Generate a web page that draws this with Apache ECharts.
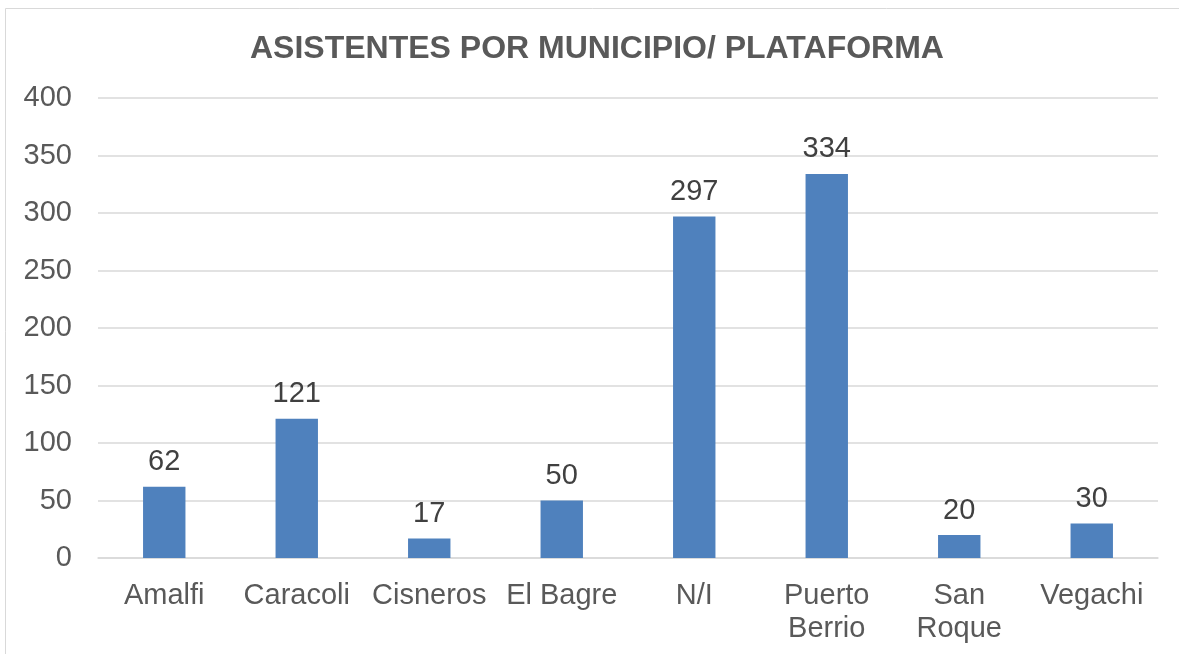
<!DOCTYPE html>
<html lang="es">
<head>
    <meta charset="UTF-8">
    <title>Asistentes por municipio</title>
    <script src="https://cdn.jsdelivr.net/npm/echarts@6/dist/echarts.min.js"></script>
    <style>
        html, body { margin: 0; padding: 0; background: #fff; }
        #main { width: 1179px; height: 654px; }
    </style>
</head>
<body>
<div id="main"></div>
<script type="text/javascript">
    const municipios = ['Amalfi', 'Caracoli', 'Cisneros', 'El Bagre', 'N/I', 'Puerto\nBerrio', 'San\nRoque', 'Vegachi']
    const asistentes = [62, 121, 17, 50, 297, 334, 20, 30]
    const yTicks = [0, 50, 100, 150, 200, 250, 300, 350, 400]

    let chart = echarts.init(document.getElementById('main'))
    chart.setOption({
        animation: false,
        textStyle: { fontFamily: 'Liberation Sans, Arial, sans-serif' },
        graphic: [{
            type: 'rect',
            shape: { x: 5.5, y: 8.5, width: 1300, height: 800 },
            style: { fill: 'none', stroke: '#d9d9d9', lineWidth: 1 },
            silent: true
        }],
        title: {
            text: 'ASISTENTES POR MUNICIPIO/ PLATAFORMA',
            left: 245,
            top: 28,
            textStyle: { fontSize: 32, fontWeight: 'bold', color: '#595959' }
        },
        grid: { left: 98, right: 21, top: 98, bottom: 96, containLabel: false },
        xAxis: {
            type: 'category',
            data: municipios,
            axisLine: { lineStyle: { color: '#d9d9d9', width: 1.5 } },
            axisTick: { show: false },
            axisLabel: { fontSize: 29, color: '#595959', margin: 21, lineHeight: 33, interval: 0 }
        },
        yAxis: {
            type: 'value',
            min: yTicks[0],
            max: yTicks[yTicks.length - 1],
            interval: 50,
            axisLine: { show: false },
            axisTick: { show: false },
            splitLine: { lineStyle: { color: '#d9d9d9', width: 1.5 } },
            axisLabel: { fontSize: 29, color: '#595959', margin: 26 }
        },
        series: [{
            type: 'bar',
            data: asistentes,
            barWidth: '32%',
            itemStyle: { color: '#4f81bd' },
            label: {
                show: true,
                position: 'top',
                distance: 10,
                fontSize: 29,
                color: '#404040'
            }
        }]
    })
</script>
</body>
</html>
